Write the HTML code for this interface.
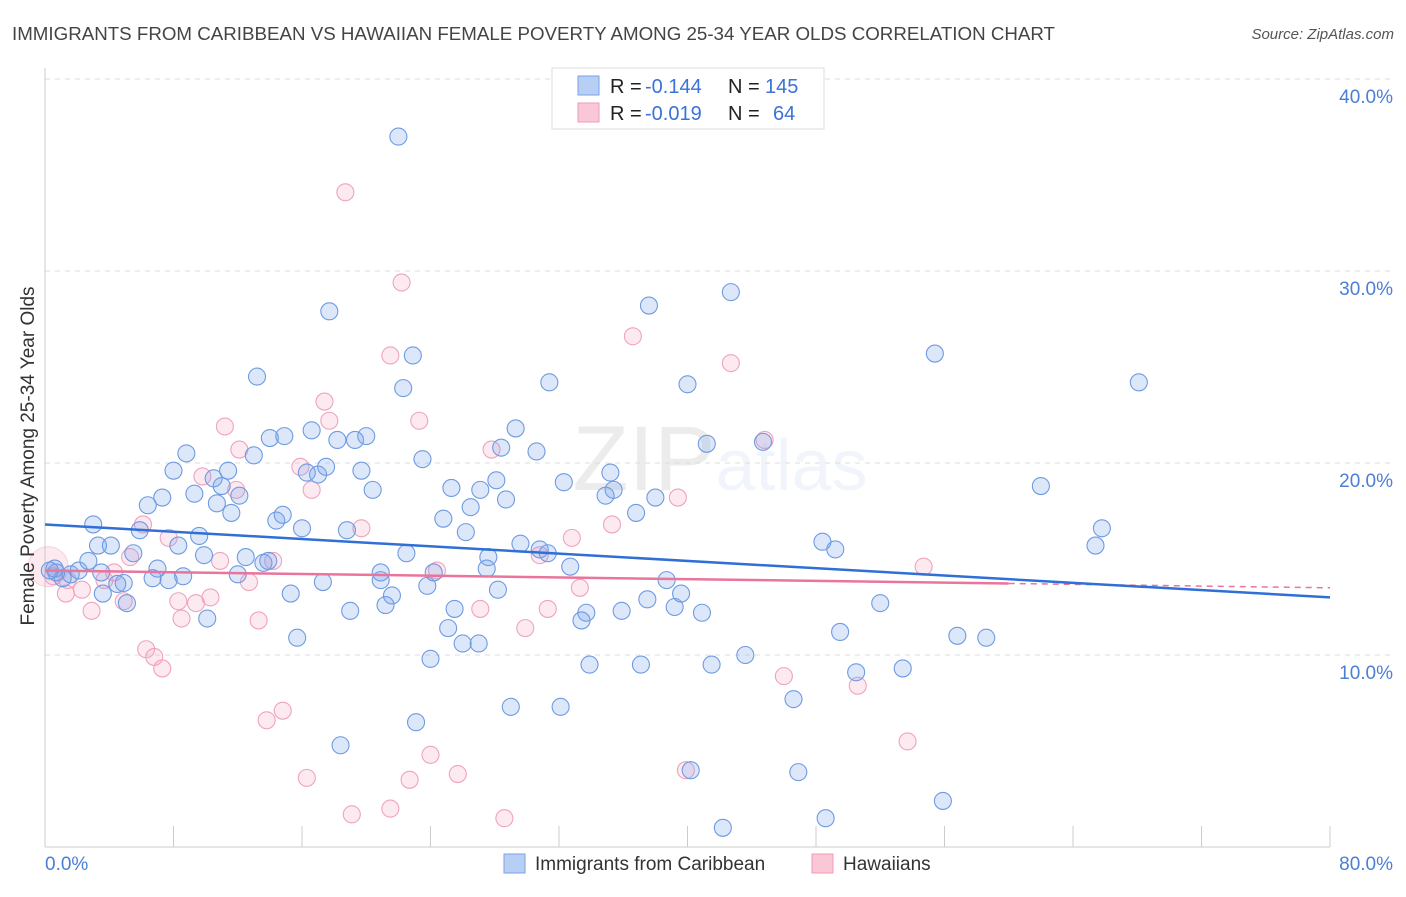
<!DOCTYPE html>
<html><head><meta charset="utf-8"><style>
body{margin:0;background:#fff;font-family:"Liberation Sans",sans-serif;}
svg text{font-family:"Liberation Sans",sans-serif;}
</style></head><body>
<svg id="chart" width="1406" height="892" xmlns="http://www.w3.org/2000/svg">
<text x="12" y="40" font-size="18" fill="#444" textLength="1043" lengthAdjust="spacingAndGlyphs">IMMIGRANTS FROM CARIBBEAN VS HAWAIIAN FEMALE POVERTY AMONG 25-34 YEAR OLDS CORRELATION CHART</text>
<text x="1394" y="39" font-size="15" fill="#555" text-anchor="end" font-style="italic">Source: ZipAtlas.com</text>
<text x="720" y="490" font-size="92" text-anchor="middle" fill="#000" opacity="0.07" font-family="Liberation Serif">ZIP<tspan fill="#4a7fd4" opacity="1" font-family="Liberation Sans" font-size="72">atlas</tspan></text>
<g id="grid"></g><g id="axes"></g><g id="marks"></g>
<text transform="translate(34,456) rotate(-90)" font-size="19" fill="#333" text-anchor="middle">Female Poverty Among 25-34 Year Olds</text>
<g>
<rect x="552" y="68" width="272" height="61" fill="#fff" stroke="#ddd"/>
<rect x="578" y="76" width="21" height="19" fill="#b7cff5" stroke="#7aa3e6"/>
<rect x="578" y="103" width="21" height="19" fill="#f9c7d6" stroke="#ef9bb8"/>
<text x="610" y="93" font-size="20" fill="#222">R =</text>
<text x="645" y="93" font-size="20" fill="#3a72d8">-0.144</text>
<text x="728" y="93" font-size="20" fill="#222">N =</text>
<text x="765" y="93" font-size="20" fill="#3a72d8">145</text>
<text x="610" y="120" font-size="20" fill="#222">R =</text>
<text x="645" y="120" font-size="20" fill="#3a72d8">-0.019</text>
<text x="728" y="120" font-size="20" fill="#222">N =</text>
<text x="773" y="120" font-size="20" fill="#3a72d8">64</text>
</g>
<g>
<rect x="504" y="854" width="21" height="19" fill="#b7cff5" stroke="#7aa3e6"/>
<text x="535" y="870" font-size="19" fill="#333">Immigrants from Caribbean</text>
<rect x="812" y="854" width="21" height="19" fill="#f9c7d6" stroke="#ef9bb8"/>
<text x="843" y="870" font-size="19" fill="#333">Hawaiians</text>
</g>
</svg>
<script>
const blueX=[22.0,37.6,42.7,17.7,55.4,68.1,13.2,22.9,22.3,31.4,40.0,29.3,28.4,30.6,41.2,44.7,14.0,14.9,16.6,18.2,19.3,20.0,8.8,13.0,23.5,8.0,11.4,10.5,11.0,16.3,17.0,17.5,19.7,20.4,9.3,7.3,12.1,25.3,27.1,28.1,28.7,32.3,35.2,35.4,34.9,38.0,6.4,10.7,11.6,26.5,36.8,62.0,3.0,5.9,8.3,9.6,14.4,14.8,16.0,18.8,24.8,26.2,29.6,30.8,31.3,32.7,27.6,27.5,22.5,48.4,49.2,65.8,65.4,4.1,3.3,5.5,9.9,12.5,13.6,13.9,7.0,12.0,0.6,1.1,1.6,2.1,2.7,3.5,4.5,4.9,6.7,7.7,8.6,17.3,20.9,20.9,21.6,23.8,24.2,28.2,38.7,39.6,15.3,3.6,5.1,19.0,21.2,25.5,33.7,33.4,35.9,37.5,39.2,40.9,52.0,25.1,49.5,26.0,27.0,56.8,58.6,15.7,10.1,24.0,33.9,37.1,41.5,43.6,50.5,53.4,23.1,29.0,32.1,46.6,18.4,40.2,46.9,55.9,42.2,48.6,0.7,0.3];
const blueY=[37.0,28.2,28.9,27.9,25.7,24.2,24.5,25.6,23.9,24.2,24.1,21.8,20.8,20.6,21.0,21.1,21.3,21.4,21.7,21.2,21.2,21.4,20.5,20.4,20.2,19.6,19.6,19.2,18.8,19.5,19.4,19.8,19.6,18.6,18.4,18.2,18.3,18.7,18.6,19.1,18.1,19.0,19.5,18.6,18.3,18.2,17.8,17.9,17.4,17.7,17.4,18.8,16.8,16.5,15.7,16.2,17.0,17.3,16.6,16.5,17.1,16.4,15.8,15.5,15.3,14.6,15.1,14.5,15.3,15.9,15.5,16.6,15.7,15.7,15.7,15.3,15.2,15.1,14.8,14.9,14.5,14.2,14.5,14.0,14.2,14.4,14.9,14.3,13.7,13.75,14.0,13.9,14.1,13.8,14.3,13.9,13.1,13.6,14.3,13.4,13.9,13.2,13.2,13.2,12.7,12.3,12.6,12.4,12.2,11.8,12.3,12.9,12.5,12.2,12.7,11.4,11.2,10.6,10.6,11.0,10.9,10.9,11.9,9.8,9.5,9.5,9.5,10.0,9.1,9.3,6.5,7.3,7.3,7.7,5.3,4.0,3.9,2.4,1.0,1.5,14.3,14.4];
const pinkX=[18.7,22.2,36.6,42.7,21.5,17.4,17.7,23.3,11.2,12.1,27.8,44.8,15.9,16.6,9.8,11.9,39.4,6.1,7.7,19.7,35.3,32.8,30.8,10.9,12.7,14.2,5.3,4.3,3.7,1.4,0.5,1.3,2.9,2.3,4.9,8.5,10.3,9.4,8.3,13.3,24.4,27.1,29.9,31.3,33.3,6.3,6.8,7.3,54.7,46.0,50.6,13.8,14.8,53.7,24.0,25.7,16.3,22.7,39.9,19.1,21.5,28.6,0.2];
const pinkY=[34.1,29.4,26.6,25.2,25.6,23.2,22.2,22.2,21.9,20.7,20.7,21.2,19.8,18.6,19.3,18.6,18.2,16.8,16.1,16.6,16.8,16.1,15.2,14.9,13.8,14.9,15.1,14.3,13.9,13.9,14.1,13.2,12.3,13.4,12.8,11.9,13.0,12.7,12.8,11.8,14.4,12.4,11.4,12.4,13.5,10.3,9.9,9.3,14.6,8.9,8.4,6.6,7.1,5.5,4.8,3.8,3.6,3.5,4.0,1.7,2.0,1.5,14.6];
const blueTrend=[16.8,13.0];
const pinkTrend=[14.4,13.5];
const pinkSolidEnd=60;
const yTicks=[10,20,30,40];
const yTickLabels=["10.0%","20.0%","30.0%","40.0%"];
const xTicks=[0,8,16,24,32,40,48,56,64,72,80];
const NS="http://www.w3.org/2000/svg";
const X=v=>45+v*(1285/80), Y=v=>847-v*19.2;
function mk(tag,attrs,parent){const e=document.createElementNS(NS,tag);for(const k in attrs)e.setAttribute(k,attrs[k]);parent.appendChild(e);return e;}
const grid=document.getElementById('grid'),axes=document.getElementById('axes'),marks=document.getElementById('marks');
yTicks.forEach((t,i)=>{
 const l=mk('line',{x1:45,x2:1393,y1:Y(t),y2:Y(t),stroke:'#ddd','stroke-dasharray':'5,5'},grid);
 
 
 const tx=mk('text',{x:1393,y:Y(t)+24,'font-size':19,fill:'#4a7fd4','text-anchor':'end'},axes);
 tx.textContent=yTickLabels[i];
 
 
});
const ya=mk('line',{x1:45,x2:45,y1:68,y2:847,stroke:'#ccc'},axes);


const xa=mk('line',{x1:45,x2:1330,y1:847,y2:847,stroke:'#ccc'},axes);


xTicks.forEach(t=>{const l=mk('line',{x1:X(t),x2:X(t),y1:826,y2:847,stroke:'#ccc'},axes);
 
 });
const x0=mk('text',{x:45,y:870,'font-size':19,fill:'#4a7fd4'},axes);x0.textContent="0.0%";


const x1=mk('text',{x:1393,y:870,'font-size':19,fill:'#4a7fd4','text-anchor':'end'},axes);x1.textContent="80.0%";


const bp=mk('circle',{cx:X(pinkX[pinkX.length-1]),cy:Y(pinkY[pinkY.length-1]),r:20,fill:'rgba(240,150,180,0.2)',stroke:'rgba(239,155,184,0.4)'},marks);


for(let i=0;i<pinkX.length-1;i++){const c=mk('circle',{cx:X(pinkX[i]),cy:Y(pinkY[i]),r:8.5,fill:'rgba(244,170,196,0.25)',stroke:'#efa3bf','stroke-width':1.1},marks);
 
 }
for(let i=0;i<blueX.length;i++){const c=mk('circle',{cx:X(blueX[i]),cy:Y(blueY[i]),r:8.5,fill:'rgba(120,160,235,0.25)',stroke:'#6e9be2','stroke-width':1.1},marks);
 
 }
const pAt=x=>pinkTrend[0]+(pinkTrend[1]-pinkTrend[0])*x/80;
const pd=mk('line',{x1:X(pinkSolidEnd),y1:Y(pAt(pinkSolidEnd)),x2:X(80),y2:Y(pinkTrend[1]),stroke:'#e9759c','stroke-width':1.5,'stroke-dasharray':'6,5'},marks);


const pt=mk('line',{x1:X(0),y1:Y(pinkTrend[0]),x2:X(pinkSolidEnd),y2:Y(pAt(pinkSolidEnd)),stroke:'#e9759c','stroke-width':2.5},marks);


const bt=mk('line',{x1:X(0),y1:Y(blueTrend[0]),x2:X(80),y2:Y(blueTrend[1]),stroke:'#2f6fd6','stroke-width':2.5},marks);


</script>
</body></html>
